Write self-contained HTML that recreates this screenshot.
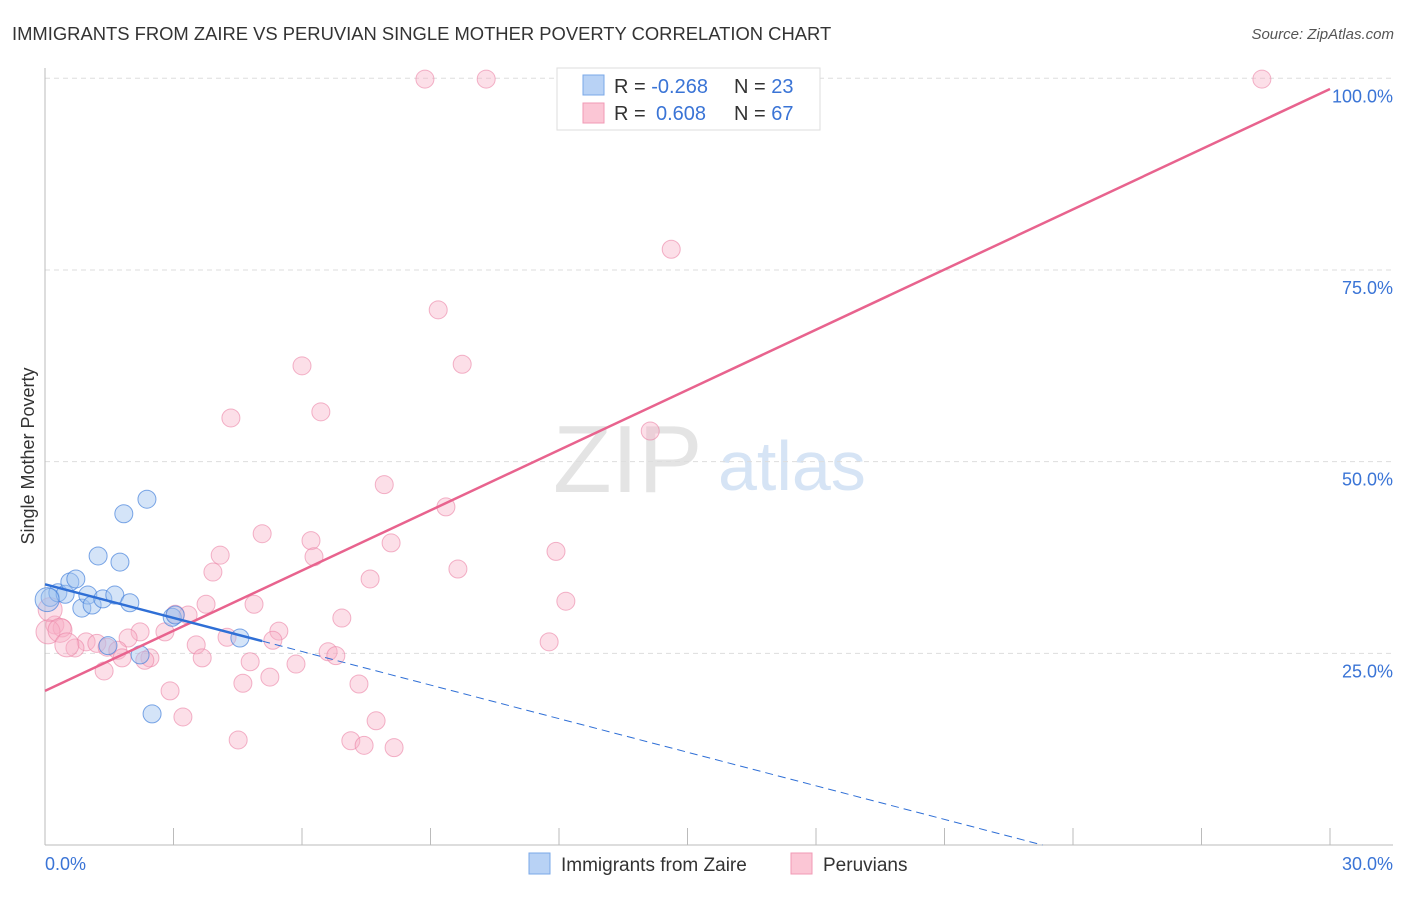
<!DOCTYPE html>
<html><head><meta charset="utf-8">
<style>
body{margin:0;background:#fff;font-family:"Liberation Sans",sans-serif;}
svg text{font-family:"Liberation Sans",sans-serif;}
</style></head>
<body>
<svg id="chart" width="1406" height="892" xmlns="http://www.w3.org/2000/svg">
<text x="12" y="40" font-size="18.4" fill="#333">IMMIGRANTS FROM ZAIRE VS PERUVIAN SINGLE MOTHER POVERTY CORRELATION CHART</text>
<text x="1394" y="39" font-size="15" fill="#555" text-anchor="end" font-style="italic">Source: ZipAtlas.com</text>
<g>
<text x="553" y="492" font-size="96" fill="#e4e4e4" font-family="Liberation Serif,serif">ZIP</text>
<text x="718" y="490" font-size="70" fill="#d6e4f5">atlas</text>
</g>
<text transform="translate(34,456) rotate(-90)" font-size="18" fill="#333" text-anchor="middle">Single Mother Poverty</text>
<g id="grid"></g>
<g id="axes"></g>
<g id="marks"></g>
<g>
<rect x="557" y="68" width="263" height="62" fill="#fff" stroke="#ddd"/>
<rect x="583" y="75" width="21" height="20" fill="#b8d2f5" stroke="#7aa8e8"/>
<rect x="583" y="103" width="21" height="20" fill="#fbc6d5" stroke="#f09ab5"/>
<text x="614" y="93" font-size="20" fill="#333">R = <tspan fill="#3a74d6">-0.268</tspan><tspan x="734">N = </tspan><tspan fill="#3a74d6">23</tspan></text>
<text x="614" y="120" font-size="20" fill="#333">R = <tspan fill="#3a74d6" x="656">0.608</tspan><tspan x="734">N = </tspan><tspan fill="#3a74d6">67</tspan></text>
</g>
<g>
<rect x="529" y="853" width="21" height="21" fill="#b8d2f5" stroke="#7aa8e8"/>
<text x="561" y="871" font-size="19" fill="#333">Immigrants from Zaire</text>
<rect x="791" y="853" width="21" height="21" fill="#fbc6d5" stroke="#f09ab5"/>
<text x="823" y="871" font-size="19" fill="#333">Peruvians</text>
</g>
</svg>
<script>
const xTickLabels=["0.0%","30.0%"];
const yTicks=[25,50,75,100];
const yTickLabels=["25.0%","50.0%","75.0%","100.0%"];
const blueX=[0.12,0.30,0.47,0.58,0.72,0.86,1.00,1.10,1.24,1.35,1.47,1.63,1.75,1.84,1.98,2.22,2.38,2.50,2.97,3.04,4.55,0.05];
const blueY=[32.3,32.9,32.7,34.3,34.7,30.9,32.6,31.3,37.7,32.1,26.0,32.6,36.9,43.2,31.6,24.8,45.1,17.1,29.7,30.0,27.0,32.0];
const pinkX=[8.87,10.30,28.41,14.62,9.18,6.00,9.74,6.44,4.34,14.13,7.92,9.36,5.07,6.21,8.08,11.93,4.09,6.28,9.64,3.92,7.59,12.16,3.76,4.88,3.04,3.34,6.93,5.46,0.23,0.40,2.80,2.22,1.94,4.25,5.32,3.53,11.77,0.96,1.21,0.70,1.45,1.70,6.61,6.79,2.45,3.67,2.33,4.79,5.86,1.80,1.38,5.25,2.92,4.62,7.33,3.22,7.73,4.51,7.14,7.45,8.15,0.12,0.07,0.35,0.51];
const pinkY=[99.9,99.9,99.9,77.7,69.8,62.5,62.7,56.5,55.7,54.0,47.0,44.1,40.6,39.7,39.4,38.3,37.8,37.6,36.0,35.6,34.7,31.8,31.4,31.4,30.1,30.0,29.6,27.9,28.7,28.3,27.8,27.8,27.0,27.1,26.7,26.1,26.5,26.5,26.3,25.7,25.8,25.4,25.2,24.7,24.4,24.4,24.1,23.9,23.6,24.4,22.7,21.9,20.1,21.1,21.0,16.7,16.2,13.7,13.6,13.0,12.7,30.7,27.8,28.0,26.1];
const blueTrend=[34.0,-1.46]; // intercept, slope
const blueSolidEnd=5.07;
const pinkTrend=[20.1,2.617];
const X0=45,X1=1330,Y0=845,YS=7.667;
const sx=v=>X0+(X1-X0)*v/30, sy=v=>Y0-v*YS;
const NS="http://www.w3.org/2000/svg";
function mk(tag,attrs,parent){const e=document.createElementNS(NS,tag);for(const k in attrs)e.setAttribute(k,attrs[k]);parent.appendChild(e);return e;}
const grid=document.getElementById('grid'),axes=document.getElementById('axes'),marks=document.getElementById('marks');
yTicks.forEach((t,i)=>{
 const l=mk('line',{x1:45,x2:1393,y1:sy(t),y2:sy(t),stroke:'#ddd','stroke-dasharray':'5,4'},grid);
 
 
 const tx=mk('text',{x:1393,y:sy(t)+24,'font-size':18,fill:'#3a74d6','text-anchor':'end'},axes);
 tx.textContent=yTickLabels[i];
 
 
});
const ax=mk('line',{x1:45,x2:1393,y1:845,y2:845,stroke:'#bbb'},axes);


const ay=mk('line',{x1:45,x2:45,y1:68,y2:845,stroke:'#bbb'},axes);


for(let i=0;i<=10;i++){
 const t=mk('line',{x1:sx(i*3),x2:sx(i*3),y1:828,y2:845,stroke:'#bbb'},axes);
 
 
}
[[0,'start',45],[30,'end',1393]].forEach((d,i)=>{
 const t=mk('text',{x:d[2],y:870,'font-size':18,fill:'#3a74d6','text-anchor':d[1]},axes);
 t.textContent=xTickLabels[i];
 
 
});
pinkX.forEach((v,i)=>{
 const c=mk('circle',{cx:sx(v),cy:sy(pinkY[i]),r:i>=61?12:9,fill:'rgba(248,175,198,0.4)',stroke:'rgba(235,130,165,0.6)','stroke-width':1},marks);
 
 
});
blueX.forEach((v,i)=>{
 const c=mk('circle',{cx:sx(v),cy:sy(blueY[i]),r:i==21?12:9,fill:'rgba(160,195,240,0.45)',stroke:'rgba(70,130,220,0.7)','stroke-width':1},marks);
 
 
});
const pl=mk('line',{x1:sx(0),y1:sy(pinkTrend[0]),x2:sx(30),y2:sy(pinkTrend[0]+30*pinkTrend[1]),stroke:'#e8638e','stroke-width':2.5},marks);


const bEnd=blueSolidEnd;
const bl=mk('line',{x1:sx(0),y1:sy(blueTrend[0]),x2:sx(bEnd),y2:sy(blueTrend[0]+bEnd*blueTrend[1]),stroke:'#2f6fd6','stroke-width':2.5},marks);


const zx=-blueTrend[0]/blueTrend[1];
const bd=mk('line',{x1:sx(bEnd),y1:sy(blueTrend[0]+bEnd*blueTrend[1]),x2:sx(zx),y2:sy(0),stroke:'#2f6fd6','stroke-width':1,'stroke-dasharray':'8,5'},marks);


</script>
</body></html>
